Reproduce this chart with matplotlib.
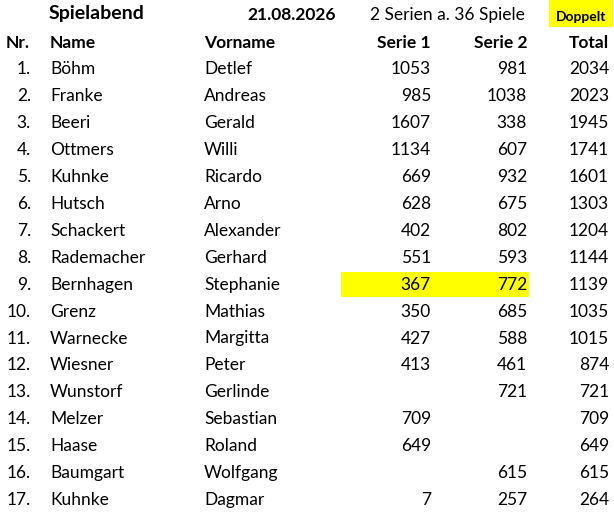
import matplotlib.pyplot as plt
from matplotlib.patches import Rectangle

# table data
nr = [f"{i}." for i in range(1, 18)]
names = ["Böhm", "Franke", "Beeri", "Ottmers", "Kuhnke", "Hutsch", "Schackert",
         "Rademacher", "Bernhagen", "Grenz", "Warnecke", "Wiesner", "Wunstorf",
         "Melzer", "Haase", "Baumgart", "Kuhnke"]
vornamen = ["Detlef", "Andreas", "Gerald", "Willi", "Ricardo", "Arno", "Alexander",
            "Gerhard", "Stephanie", "Mathias", "Margitta", "Peter", "Gerlinde",
            "Sebastian", "Roland", "Wolfgang", "Dagmar"]
serie1 = [1053, 985, 1607, 1134, 669, 628, 402, 551, 367, 350, 427, 413, None,
          709, 649, None, 7]
serie2 = [981, 1038, 338, 607, 932, 675, 802, 593, 772, 685, 588, 461, 721,
          None, None, 615, 257]
total = [2034, 2023, 1945, 1741, 1601, 1303, 1204, 1144, 1139, 1035, 1015, 874,
         721, 709, 649, 615, 264]
headers = ["Nr.", "Name", "Vorname", "Serie 1", "Serie 2", "Total"]
doppelt_row = 8  # index of highlighted row

FONT = "Lato"
FS = 12.5

fig = plt.figure(figsize=(6.14, 5.12), dpi=100)
ax = fig.add_axes([0, 0, 1, 1])
ax.set_xlim(0, 614)
ax.set_ylim(512, 0)
ax.axis("off")


def txt(x, y, s, ha="left", bold=False, size=FS):
    ax.text(x, y, s, ha=ha, va="center", fontsize=size, family=FONT,
            fontweight="bold" if bold else "normal", color="black")


# title row
txt(49, 14, "Spielabend", bold=True, size=14)
txt(247, 15, "21.08.2026", bold=True)
txt(370, 15, "2 Serien a. 36 Spiele")
ax.add_patch(Rectangle((549, 0), 64, 27, color="#ffff00", lw=0))
txt(581, 17, "Doppelt", ha="center", bold=True, size=10)

# header
hy = 43
head_x = [6, 50, 204, 431, 527, 609]
head_ha = ["left", "left", "left", "right", "right", "right"]
for h, x, ha in zip(headers, head_x, head_ha):
    txt(x, hy, h, ha=ha, bold=True)

# rows
col_x = [31, 50, 204, 431, 527, 609]
col_ha = ["right", "left", "left", "right", "right", "right"]
y0, dy = 69.5, 26.9
for i in range(len(names)):
    y = y0 + i * dy
    if i == doppelt_row:
        ax.add_patch(Rectangle((341, y - 12.5), 188, 25, color="#ffff00", lw=0))
    vals = [nr[i], names[i], vornamen[i],
            "" if serie1[i] is None else str(serie1[i]),
            "" if serie2[i] is None else str(serie2[i]),
            str(total[i])]
    for v, x, ha in zip(vals, col_x, col_ha):
        txt(x, y, v, ha=ha)

fig.savefig("out.png", dpi=100)
